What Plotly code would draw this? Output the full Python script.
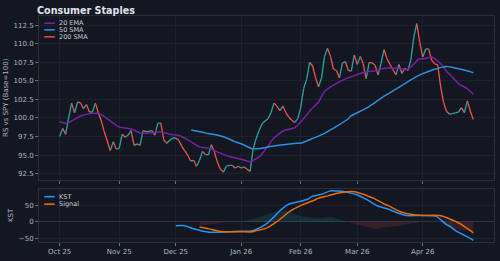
import plotly.graph_objects as go

# ---------------- data ----------------
chart_title = "Consumer Staples"
month_labels = ["Oct 25", "Nov 25", "Dec 25", "Jan 26", "Feb 26", "Mar 26", "Apr 26"]
month_idx = [0, 20, 39, 61, 81, 100, 122]   # bar index of first trading day of month

price = [
    97.5, 98.6, 97.8, 100.0, 102.0, 100.7, 102.15, 102.05, 101.25, 101.8,
    100.8, 100.8, 102.0, 100.7, 99.6, 98.1, 96.9, 95.6, 96.8, 95.8,
    95.9, 97.8, 97.4, 97.7, 98.3, 96.3, 96.5, 96.3, 98.3, 98.15,
    98.2, 98.3, 97.7, 99.3, 99.3, 97.0, 96.6, 97.0, 97.3, 97.3,
    97.0, 96.2, 95.6, 95.0, 94.2, 94.3, 93.5, 94.3, 95.5, 95.05,
    95.05, 96.4, 95.4, 94.05, 93.1, 92.7, 93.5, 93.6, 93.6, 93.25,
    93.5, 93.25, 93.4, 93.1, 92.8, 95.8, 97.2, 98.3, 99.2, 99.6,
    99.9, 100.7, 102.0, 101.6, 101.0, 101.6, 100.7, 100.1, 99.7, 99.4,
    99.9, 101.4, 104.0, 105.2, 107.5, 107.0, 105.4, 104.2, 105.4, 108.3,
    109.4, 108.3, 106.6, 106.4, 105.4, 107.4, 107.6, 106.4, 106.3, 108.5,
    107.2, 108.3, 107.3, 105.3, 107.5, 107.4, 107.1, 105.8, 107.4, 109.2,
    108.0, 107.2, 106.5, 105.8, 107.2, 106.0, 106.7, 106.4, 107.8, 110.9,
    112.7, 110.2, 108.2, 109.3, 109.3, 107.8, 107.3, 107.2, 104.3, 102.1,
    100.9, 100.5, 100.6, 100.7, 100.8, 101.4, 100.7, 102.3, 100.9, 99.8,
]

ema_idx = [0, 2.5, 7.2, 10.5, 13.3, 15.5, 17.7, 19.9, 22.7, 24.7, 27.1, 30.4, 33.7, 37.1,
           40.4, 43.7, 47.0, 50.3, 53.1, 57.0, 61.4, 64.1, 67.5, 69.7, 71.9, 75.2, 79.1,
           81.3, 84.6, 86.8, 89.0, 92.3, 95.7, 99.0, 102.3, 106.7, 108.9, 113.4, 116.7,
           118.9, 120.5, 122.8, 125.0, 126.6, 128.3, 130.0, 132.2, 134.4, 136.6, 139]
ema_val = [99.5, 99.3, 100.3, 100.6, 100.6, 100.05, 99.4, 98.8, 98.6, 98.4, 97.97, 97.97,
           98.15, 97.8, 97.6, 96.9, 96.1, 95.9, 95.4, 94.8, 94.4, 94.1, 94.9, 96.06, 97.26,
           98.28, 98.7, 99.6, 101.2, 102.05, 103.6, 104.5, 105.2, 105.7, 106.15, 106.4,
           106.7, 106.7, 106.5, 107.2, 107.9, 108.0, 108.2, 107.8, 107.2, 106.3, 105.4,
           104.5, 104.06, 103.2]

sma_idx = [44.2, 48.1, 49.8, 52.5, 57.0, 58.6, 61.4, 64.7, 67.5, 70.8, 75.2, 79.6, 81.3,
           84.6, 88.5, 92.3, 96.8, 97.9, 103.4, 108.9, 114.5, 120.0, 125.5, 130.0, 133.3,
           136.6, 139]
sma_val = [98.37, 98.06, 97.9, 97.74, 97.17, 96.85, 96.45, 95.85, 95.9, 96.14, 96.4, 96.6,
           96.63, 97.17, 97.83, 98.7, 99.83, 100.27, 101.4, 102.9, 104.27, 105.6, 106.5,
           106.94, 106.7, 106.4, 106.1]

kst_idx = [39.0, 42.0, 44.8, 48.1, 50.3, 53.6, 57.0, 60.3, 63.6, 65.8, 69.1, 72.4, 73.6,
           75.7, 76.9, 78.0, 80.7, 83.5, 84.6, 87.9, 90.7, 91.2, 93.5, 95.7, 97.9, 100.1,
           103.4, 106.7, 110.1, 113.4, 116.7, 120.0, 123.3, 126.6, 130.0, 131.1, 133.3,
           135.5, 136.6, 139]
kst_val = [-11.9, -11.9, -20.8, -28.6, -31.5, -31.5, -30.6, -28.6, -28.6, -23.8, -8.9, 18,
           30, 45.8, 52.7, 55.7, 60.7, 68.5, 75.6, 82.4, 92.3, 93.4, 92.3, 90.5, 86.3, 80.4,
           66, 48, 39, 27, 18.5, 18.5, 18.5, 16, -9, -13.7, -28.6, -38.7, -43.5, -56]

sig_idx = [47.0, 50.3, 53.6, 57.0, 61.4, 64.7, 65.8, 69.1, 73.0, 77.3, 81.3, 85.7, 86.8,
           90.1, 92.8, 96.8, 99.0, 102.3, 103.4, 105.6, 108.9, 110.1, 114.5, 118.9, 122.2,
           127.7, 131.1, 134.4, 136.6, 139]
sig_val = [-15.8, -21.7, -28.6, -30.6, -30.6, -30.6, -27.5, -21, 0, 31, 50, 65.5, 70.5, 78,
           85.4, 90.5, 90.5, 82, 78, 70.5, 54, 50, 30, 20.8, 19, 18.5, 8, -5, -18, -33.6]

hist_idx = [47.0, 53.6, 57.0, 61.4, 65.8, 70.2, 73.6, 75.7, 78.0, 81.3, 84.6, 87.9, 91.2,
            94.6, 96.8, 100.1, 103.4, 106.2, 108.9, 114.5, 118.9, 121.1, 127.7, 131.1,
            134.4, 139]
hist_val = [-12, -4, 0, 1, 9, 23, 31, 34, 27, 16, 13, 11, 14, 6, 0, -9, -17, -22, -17, -12,
            -4, 0, 0, -19, -24, -29]

series_names = ["20 EMA", "50 SMA", "200 SMA"]
kst_names = ["KST", "Signal"]

# ---------------- style ----------------
BG = "#131722"
GRID = "#1c2030"
FRAME = "#2a2e39"
TXT = "#b2b5be"
UP = "#26a69a"
DOWN = "#ef5350"
EMA_C = "#7b1fa2"
SMA_C = "#2d8fe0"
SMA200_C = "#e0453f"
KST_C = "#2196f3"
SIG_C = "#ef6c00"
FONT = "DejaVu Sans"

fig = go.Figure()

# price: green segments when rising, red when falling
ux, uy, dx, dy = [], [], [], []
for i in range(len(price) - 1):
    seg_x = [i, i + 1, None]
    seg_y = [price[i], price[i + 1], None]
    if price[i + 1] >= price[i]:
        ux += seg_x; uy += seg_y
    else:
        dx += seg_x; dy += seg_y
fig.add_trace(go.Scatter(x=ux, y=uy, mode="lines", line=dict(color=UP, width=1.3),
                         showlegend=False, hoverinfo="skip", xaxis="x", yaxis="y"))
fig.add_trace(go.Scatter(x=dx, y=dy, mode="lines", line=dict(color=DOWN, width=1.3),
                         showlegend=False, hoverinfo="skip", xaxis="x", yaxis="y"))

fig.add_trace(go.Scatter(x=ema_idx, y=ema_val, mode="lines", name=series_names[0],
                         line=dict(color=EMA_C, width=1.5, shape="spline", smoothing=0.5),
                         showlegend=False, xaxis="x", yaxis="y"))
fig.add_trace(go.Scatter(x=sma_idx, y=sma_val, mode="lines", name=series_names[1],
                         line=dict(color=SMA_C, width=1.5, shape="spline", smoothing=0.5),
                         showlegend=False, xaxis="x", yaxis="y"))

# KST histogram (difference) as faint filled areas
pos = [max(v, 0) for v in hist_val]
neg = [min(v, 0) for v in hist_val]
fig.add_trace(go.Scatter(x=hist_idx, y=pos, mode="lines", line=dict(width=0, color=UP),
                         fill="tozeroy", fillcolor="rgba(38,166,154,0.16)",
                         showlegend=False, hoverinfo="skip", xaxis="x2", yaxis="y2"))
fig.add_trace(go.Scatter(x=hist_idx, y=neg, mode="lines", line=dict(width=0, color=DOWN),
                         fill="tozeroy", fillcolor="rgba(239,83,80,0.16)",
                         showlegend=False, hoverinfo="skip", xaxis="x2", yaxis="y2"))
fig.add_trace(go.Scatter(x=kst_idx, y=kst_val, mode="lines", name=kst_names[0],
                         line=dict(color=KST_C, width=1.5, shape="spline", smoothing=0.5),
                         showlegend=False, xaxis="x2", yaxis="y2"))
fig.add_trace(go.Scatter(x=sig_idx, y=sig_val, mode="lines", name=kst_names[1],
                         line=dict(color=SIG_C, width=1.5, shape="spline", smoothing=0.5),
                         showlegend=False, xaxis="x2", yaxis="y2"))

# ---------------- layout ----------------
W, H = 500, 261
ML, MR, MT, MB = 34, 5, 16, 17
PW, PH = W - ML - MR, H - MT - MB

def px(x):
    return (x - ML) / PW

def py(y):
    return (H - MB - y) / PH

n = len(price)
pad = 0.05 * (n - 1)
xr = [-pad, n - 1 + pad]

axis_common = dict(showline=True, linecolor=FRAME, linewidth=1, mirror=True,
                   gridcolor=GRID, gridwidth=1, ticks="outside", ticklen=3,
                   tickcolor="#6a6e79", tickfont=dict(size=7, color=TXT, family=FONT),
                   zeroline=False)

fig.update_layout(
    width=W, height=H,
    margin=dict(l=ML, r=MR, t=MT, b=MB),
    paper_bgcolor=BG, plot_bgcolor=BG,
    font=dict(family=FONT, color=TXT, size=7),
    showlegend=False,
    xaxis=dict(axis_common, range=xr, tickvals=month_idx, ticktext=month_labels,
               showticklabels=False, anchor="y", domain=[0, 1]),
    xaxis2=dict(axis_common, range=xr, tickvals=month_idx, ticktext=month_labels,
                anchor="y2", domain=[0, 1]),
    yaxis=dict(axis_common, range=[91.7, 113.74], dtick=2.5, tickformat=".1f",
               domain=[py(181), 1], anchor="x",
               title=dict(text="RS vs SPY (Base=100)", standoff=4,
                          font=dict(size=7, color=TXT, family=FONT))),
    yaxis2=dict(axis_common, range=[-61.3, 99.4], tickvals=[-50, 0, 50],
                domain=[0, py(190.3)], anchor="x2",
                zeroline=True, zerolinecolor="#2f3341", zerolinewidth=1,
                title=dict(text="KST", standoff=4,
                           font=dict(size=7, color=TXT, family=FONT))),
)

# title as a left-aligned text block above the price panel
fig.add_annotation(text="<b>" + chart_title + "</b>", xref="paper", yref="paper",
                   x=px(30), y=py(10), xanchor="left", yanchor="middle", showarrow=False,
                   font=dict(size=9.6, color="#e0e3eb", family=FONT))

# manual legends (compact, matplotlib-like)
legend_items = [
    (series_names[0], EMA_C, 23.3),
    (series_names[1], SMA_C, 30.0),
    (series_names[2], SMA200_C, 37.0),
    (kst_names[0], KST_C, 198.3),
    (kst_names[1], SIG_C, 205.8),
]
for name, color, yy in legend_items:
    fig.add_shape(type="line", xref="paper", yref="paper",
                  x0=px(39.3), x1=px(50), y0=py(yy), y1=py(yy),
                  line=dict(color=color, width=1.6))
    fig.add_annotation(text=name, xref="paper", yref="paper", x=px(52.5), y=py(yy),
                       xanchor="left", yanchor="middle", showarrow=False,
                       font=dict(size=6.5, color="#c8cbd3", family=FONT))

fig.write_html("out.html")
